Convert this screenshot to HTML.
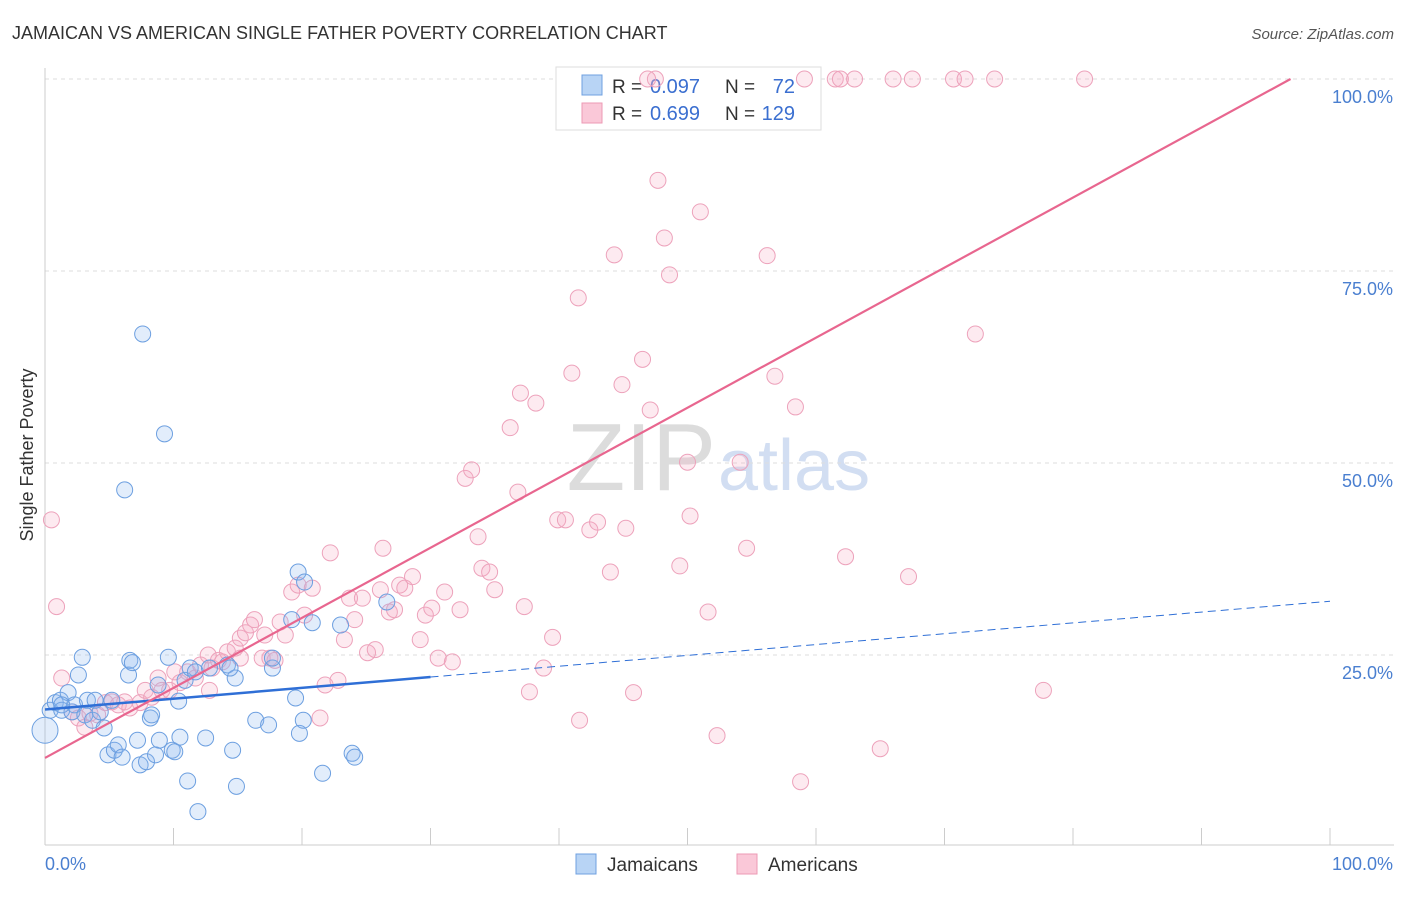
<!DOCTYPE html>
<html><head><meta charset="utf-8"><style>
body{margin:0;background:#fff;font-family:"Liberation Sans",sans-serif;}
svg text{font-family:"Liberation Sans",sans-serif;}
</style></head><body>
<svg id="chart" width="1406" height="892">
<text x="12" y="39" font-size="18" fill="#333">JAMAICAN VS AMERICAN SINGLE FATHER POVERTY CORRELATION CHART</text>
<text x="1394" y="39" font-size="15" fill="#555" font-style="italic" text-anchor="end">Source: ZipAtlas.com</text>
<text x="33" y="455" font-size="18" fill="#333" transform="rotate(-90 33 455)" text-anchor="middle">Single Father Poverty</text>
<text x="716" y="490" font-size="96" fill="#dcdcdc" text-anchor="end" font-family="Liberation Serif">ZIP</text>
<text x="718" y="490" font-size="72" fill="#d2def2">atlas</text>
<g id="grid"></g><g id="axes"></g>
<g>
<rect x="556" y="67" width="265" height="63" fill="#fff" stroke="#ddd"/>
<rect x="582" y="75" width="20" height="20" fill="#b8d4f5" stroke="#6fa0e0"/>
<text x="612" y="93" font-size="19" fill="#333">R =</text>
<text x="650" y="93" font-size="20" fill="#3b6fd0">0.097</text>
<text x="725" y="93" font-size="19" fill="#333">N =</text>
<text x="795" y="93" font-size="20" fill="#3b6fd0" text-anchor="end">72</text>
<rect x="582" y="103" width="20" height="20" fill="#fac8d8" stroke="#ec9ab4"/>
<text x="612" y="120" font-size="19" fill="#333">R =</text>
<text x="650" y="120" font-size="20" fill="#3b6fd0">0.699</text>
<text x="725" y="120" font-size="19" fill="#333">N =</text>
<text x="795" y="120" font-size="20" fill="#3b6fd0" text-anchor="end">129</text>
</g>
<g id="pts"></g><g id="trend"></g>
<g>
<rect x="576" y="854" width="20" height="20" fill="#b8d4f5" stroke="#6fa0e0"/>
<text x="607" y="871" font-size="19" fill="#333">Jamaicans</text>
<rect x="737" y="854" width="20" height="20" fill="#fac8d8" stroke="#ec9ab4"/>
<text x="768" y="871" font-size="19" fill="#333">Americans</text>
</g>
</svg>
<script>
const yTicks=[25,50,75,100];
const yTickLabels=["25.0%","50.0%","75.0%","100.0%"];
const xTicks=[0,10,20,30,40,50,60,70,80,90,100];
const jamX=[0,0.4,0.8,1.2,1.3,1.8,2.1,2.3,2.6,2.9,3.1,3.3,3.7,3.9,4.3,4.6,4.9,5.2,5.4,5.7,6.0,6.2,6.5,6.6,6.8,7.2,7.4,7.6,7.9,8.2,8.3,8.6,8.8,8.9,9.3,9.6,9.9,10.1,10.4,10.5,10.9,11.1,11.3,11.7,11.9,12.5,12.8,14.2,14.6,14.8,14.9,16.4,17.4,17.7,17.7,19.2,19.5,19.7,19.8,20.1,20.2,20.8,21.6,23.0,23.9,24.1,26.6,14.4,1.3];
const jamY=[15.2,17.8,18.8,19.1,17.8,20.1,17.6,18.5,22.4,24.7,17.2,19.1,16.5,19.1,17.6,15.5,12.0,19.1,12.6,13.3,11.7,46.5,22.4,24.3,24.0,13.9,10.7,66.8,11.1,16.8,17.2,12.0,21.1,13.9,53.8,24.7,12.6,12.4,19.0,14.3,21.7,8.6,23.3,22.8,4.6,14.2,23.3,23.7,12.6,22.0,7.9,16.5,15.9,23.3,24.6,29.6,19.4,35.8,14.8,16.5,34.5,29.2,9.6,28.9,12.2,11.7,31.9,23.3,18.5];
const amX=[0.5,0.9,1.3,2.1,2.6,3.1,3.5,4.1,4.7,5.2,5.7,6.2,6.6,7.4,7.8,8.3,8.8,9.1,9.7,10.1,10.5,11.1,11.7,12.1,12.7,13.0,13.5,13.8,14.2,14.8,15.2,15.6,16.0,16.3,16.9,17.1,17.9,18.3,18.7,19.2,19.7,20.2,20.8,21.4,21.8,22.2,22.8,23.3,23.7,24.1,24.7,25.1,25.7,26.1,26.3,26.8,27.2,27.6,28.0,28.6,29.2,29.6,30.1,30.6,31.1,31.7,32.3,32.7,33.2,33.7,34.0,34.6,35.0,36.2,36.8,37.0,37.3,37.7,38.2,38.8,39.5,39.9,40.5,41.0,41.5,41.6,42.4,43.0,44.0,44.3,44.9,45.2,45.8,46.5,47.1,47.7,48.2,48.6,49.4,50.0,50.2,51.0,51.6,52.3,54.1,54.6,56.2,56.8,58.4,58.8,62.3,65.0,67.2,72.4,77.7,17.5,15.2,12.8,47.5,59.1,61.5,61.9,63.0,66.0,67.5,70.7,71.6,73.9,80.9,46.9];
const amY=[42.6,31.3,22.0,17.6,16.8,15.6,17.4,17.2,18.8,18.9,18.5,18.9,18.1,18.8,20.4,19.5,22.0,20.4,20.4,22.8,21.4,22.8,22.0,23.7,25.0,23.3,24.3,24.1,25.4,25.9,27.2,27.9,28.9,29.6,24.6,27.6,24.3,29.3,27.6,33.2,34.1,30.2,33.7,16.8,21.1,38.3,21.7,27.0,32.4,29.6,32.4,25.3,25.7,33.5,38.9,30.6,30.9,34.1,33.7,35.2,27.0,30.2,31.1,24.6,33.2,24.1,30.9,48.0,49.1,40.4,36.3,35.8,33.5,54.6,46.2,59.1,31.3,20.2,57.8,23.3,27.3,42.6,42.6,61.7,71.5,16.5,41.3,42.3,35.8,77.1,60.2,41.5,20.1,63.5,56.9,86.8,79.3,74.5,36.6,50.1,43.1,82.7,30.6,14.5,50.1,38.9,77.0,61.3,57.3,8.5,37.8,12.8,35.2,66.8,20.4,24.6,24.6,20.4,100,100,100,100,100,100,100,100,100,100,100,100];
const jamTrend=[17.9,0.141];
const amTrend=[11.6,0.912];

const NS="http://www.w3.org/2000/svg";
const X=v=>45+v*12.85, Y=v=>847-v*7.68;
function mk(tag,attrs,parent){const e=document.createElementNS(NS,tag);for(const k in attrs)e.setAttribute(k,attrs[k]);document.getElementById(parent).appendChild(e);return e;}
yTicks.forEach((t,i)=>{
 const l=mk('line',{x1:45,x2:1394,y1:Y(t),y2:Y(t),stroke:'#ddd','stroke-dasharray':'4,4'},'grid');
 
 
 const tx=mk('text',{x:1393,y:Y(t)+24,'font-size':18,fill:'#4a7fd0','text-anchor':'end'},'grid');tx.textContent=yTickLabels[i];
 
 
});
const ax=mk('line',{x1:45,x2:1394,y1:845,y2:845,stroke:'#ccc'},'axes');


const ay=mk('line',{x1:45,x2:45,y1:68,y2:845,stroke:'#ccc'},'axes');


xTicks.forEach(t=>{const l=mk('line',{x1:X(t),x2:X(t),y1:828,y2:845,stroke:'#ccc'},'axes');
 
 });
let t0=mk('text',{x:45,y:870,'font-size':18,fill:'#4a7fd0'},'axes');t0.textContent='0.0%';


let t1=mk('text',{x:1393,y:870,'font-size':18,fill:'#4a7fd0','text-anchor':'end'},'axes');t1.textContent='100.0%';


amX.forEach((x,i)=>{const c=mk('circle',{cx:X(x),cy:Y(amY[i]),r:8,fill:'rgba(246,170,196,0.25)',stroke:'#eda2bb','stroke-width':1},'pts');
 
 });
jamX.forEach((x,i)=>{const c=mk('circle',{cx:X(x),cy:Y(jamY[i]),r:i==0?13:8,fill:'rgba(140,185,240,0.25)',stroke:'#6c9fe0','stroke-width':1},'pts');
 
 });
const jl=mk('line',{x1:X(0),y1:Y(jamTrend[0]),x2:X(30),y2:Y(jamTrend[0]+jamTrend[1]*30),stroke:'#2f6fd6','stroke-width':2.5},'trend');


const jd=mk('line',{x1:X(30),y1:Y(jamTrend[0]+jamTrend[1]*30),x2:X(100),y2:Y(jamTrend[0]+jamTrend[1]*100),stroke:'#2f6fd6','stroke-width':1,'stroke-dasharray':'8,5'},'trend');


const xe=(100-amTrend[0])/amTrend[1];
const al=mk('line',{x1:X(0),y1:Y(amTrend[0]),x2:X(xe),y2:Y(100),stroke:'#e8668f','stroke-width':2.2},'trend');


</script>
</body></html>
